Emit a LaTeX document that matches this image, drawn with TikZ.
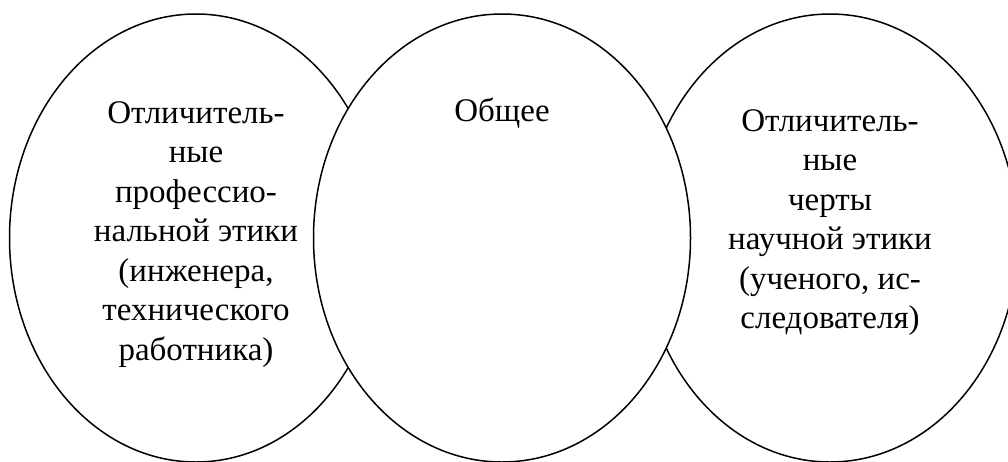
\documentclass[tikz,border=0pt]{standalone}
\usepackage{fontspec}
\setmainfont{Liberation Serif}
\newfontfamily\tnr{Liberation Serif}
\usetikzlibrary{shapes.geometric}
\tikzset{
  circ/.style={draw=black, line width=1.5pt, fill=white, ellipse, inner sep=0pt, minimum height=448pt},
  lbl/.style={align=center, inner sep=0pt, anchor=base, font=\tnr\fontsize{33}{39.5}\selectfont}
}
\begin{document}
\begin{tikzpicture}[x=1pt,y=1pt]
\useasboundingbox (0,0) rectangle (1008,-461);
\node[circ, minimum width=373pt] (L) at (196,-238) {};
\node[circ, minimum width=376pt] (R) at (830,-238) {};
\node[circ, minimum width=377pt] (M) at (502,-238) {};
\node[lbl] (tl) at (196,-360) {Отличитель-\\ные\\профессио-\\нальной этики\\(инженера,\\технического\\работника)};
\node[lbl] (tm) at (502,-121) {Общее};
\node[lbl] (tr) at (830,-328.5) {Отличитель-\\ные\\черты\\научной этики\\(ученого, ис-\\следователя)};
\end{tikzpicture}
\end{document}
